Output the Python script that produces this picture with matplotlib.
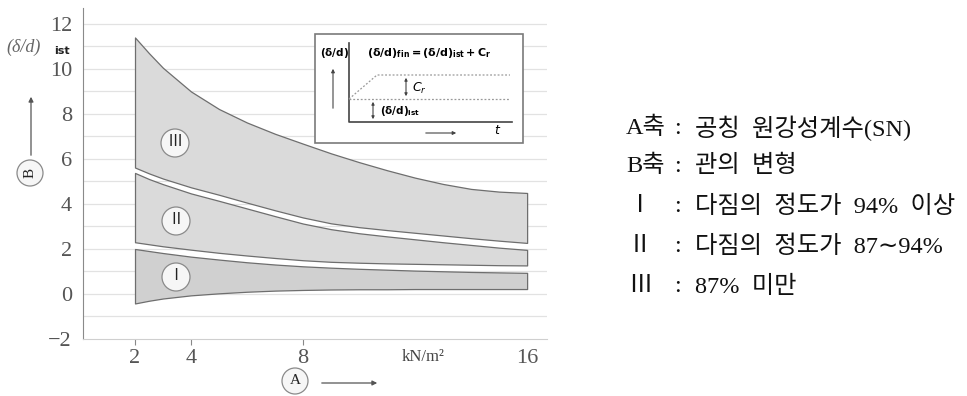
import matplotlib
matplotlib.use("Agg")
import matplotlib.pyplot as plt
from matplotlib.patches import Circle, Rectangle

# data (A: nominal ring stiffness SN, B: pipe deflection)
x_vals = [2, 2.5, 3, 4, 5, 6, 7, 8, 9, 10, 11, 12, 13, 14, 15, 16]
band3_top = [11.4, 10.7, 10.05, 9.0, 8.22, 7.62, 7.12, 6.68, 6.25, 5.86, 5.5, 5.17, 4.89, 4.67, 4.55, 4.49]
band3_bottom = [5.62, 5.36, 5.13, 4.74, 4.41, 4.06, 3.72, 3.4, 3.14, 2.97, 2.84, 2.72, 2.6, 2.48, 2.37, 2.27]
band2_top = [5.38, 5.11, 4.88, 4.47, 4.14, 3.8, 3.46, 3.13, 2.88, 2.7, 2.56, 2.43, 2.3, 2.18, 2.06, 1.96]
band2_bottom = [2.3, 2.21, 2.12, 1.97, 1.83, 1.71, 1.6, 1.5, 1.43, 1.39, 1.36, 1.34, 1.32, 1.3, 1.28, 1.27]
band1_top = [2.0, 1.91, 1.82, 1.66, 1.53, 1.41, 1.31, 1.23, 1.17, 1.12, 1.08, 1.04, 1.01, 0.98, 0.96, 0.94]
band1_bottom = [-0.42, -0.3, -0.2, -0.06, 0.03, 0.1, 0.15, 0.18, 0.2, 0.21, 0.21, 0.22, 0.22, 0.22, 0.22, 0.22]

x_ticks = [2, 4, 8, 16]
y_ticks = [-2, 0, 2, 4, 6, 8, 10, 12]
y_grid = list(range(-1, 13))

legend_rows = [
    ("A축", ":", "공칭  원강성계수(SN)"),
    ("B축", ":", "관의  변형"),
    ("Ⅰ", ":", "다짐의  정도가  94%  이상"),
    ("Ⅱ", ":", "다짐의  정도가  87∼94%"),
    ("Ⅲ", ":", "87%  미만"),
]

W, H = 967, 396
TICK_FONT = ["Liberation Serif", "DejaVu Serif"]
SERIF_KR = ["Liberation Serif", "Noto Sans CJK KR", "DejaVu Sans"]

fig = plt.figure(figsize=(W / 100, H / 100), dpi=100)

# main axes, placed in pixel terms of the reference
ax = fig.add_axes([83 / W, 1 - 339 / H, (547 - 83) / W, (339 - 8) / H])
ax.set_xlim(0.143, 16.71)
ax.set_ylim(-2, 12.71)

for yg in y_grid:
    ax.axhline(yg, color="#e2e2e2", lw=0.9, zorder=0)

fill_kw = dict(edgecolor="#6e6e6e", linewidth=0.9, zorder=2)
ax.fill_between(x_vals, band3_bottom, band3_top, facecolor="#dadada", **fill_kw)
ax.fill_between(x_vals, band2_bottom, band2_top, facecolor="#dadada", **fill_kw)
ax.fill_between(x_vals, band1_bottom, band1_top, facecolor="#d0d0d0", **fill_kw)

ax.set_yticks(y_ticks)
ax.set_yticklabels([str(v).replace("-", "\u2212") for v in y_ticks],
                   family=TICK_FONT, fontsize=16, color="#555555")
ax.tick_params(axis="y", length=0, pad=8)
ax.set_xticks(x_ticks)
ax.set_xticklabels([str(v) for v in x_ticks], family=TICK_FONT, fontsize=16, color="#555555")
ax.tick_params(axis="x", length=4, width=0.8, color="#888888", pad=3)
ax.xaxis.get_major_ticks()[-1].tick1line.set_visible(False)

for side in ("top", "right"):
    ax.spines[side].set_visible(False)
ax.spines["left"].set_color("#8a8a8a")
ax.spines["bottom"].set_color("#cfcfcf")
ax.set_facecolor("none")

# overlay in pixel coordinates for the annotations
ov = fig.add_axes([0, 0, 1, 1], zorder=5)
ov.set_xlim(0, W)
ov.set_ylim(H, 0)
ov.axis("off")
ov.patch.set_alpha(0)

def circ_label(x, y, r, txt, rot=0, size=11):
    ov.add_patch(Circle((x, y), r, facecolor="#f6f6f6", edgecolor="#8a8a8a", lw=0.9))
    ov.text(x, y, txt, ha="center", va="center", rotation=rot, fontsize=size,
            family=["Liberation Serif", "Noto Sans CJK KR"], color="#222222")

circ_label(175, 143, 14, "Ⅲ")
circ_label(176, 221, 14, "Ⅱ")
circ_label(176, 277, 14, "Ⅰ")

# y-axis caption
ov.text(6, 47, "(δ/d)", ha="left", va="center", fontsize=13, style="italic", color="#666666",
        family=TICK_FONT)
ov.text(54, 51, "ist", ha="left", va="center", fontsize=8, weight="bold", color="#222222")
arrow_kw = dict(arrowstyle="-|>", color="#555555", lw=0.9, mutation_scale=7)
ov.annotate("", xy=(31, 94), xytext=(31, 158), arrowprops=arrow_kw)
circ_label(30, 173, 13, "B", rot=90, size=11)

# x-axis caption
circ_label(295, 381, 13, "A", size=11)
ov.annotate("", xy=(380, 383), xytext=(319, 383), arrowprops=arrow_kw)
ov.text(423, 357, "kN/m²", ha="center", va="center", fontsize=12,
        family=["Liberation Serif"], color="#444444")

# inset schematic
ov.add_patch(Rectangle((315, 34), 208, 109, facecolor="white", edgecolor="#7a7a7a", lw=1.2))
ov.plot([349, 349, 512], [43, 122, 122], color="#444444", lw=1.2)
ov.plot([349, 377, 510], [99, 75, 75], color="#999999", lw=0.9, ls=(0, (1.5, 1.5)))
ov.plot([349, 510], [99, 99], color="#999999", lw=0.9, ls=(0, (1.5, 1.5)))
ov.annotate("", xy=(333, 66), xytext=(333, 111), arrowprops=dict(arrowstyle="-|>", color="#444", lw=0.8, mutation_scale=5))
ov.annotate("", xy=(459, 133), xytext=(423, 133), arrowprops=dict(arrowstyle="-|>", color="#444", lw=0.8, mutation_scale=5))
ov.annotate("", xy=(406, 75), xytext=(406, 99), arrowprops=dict(arrowstyle="<|-|>", color="#444", lw=0.8, mutation_scale=4))
ov.annotate("", xy=(373, 99), xytext=(373, 122), arrowprops=dict(arrowstyle="<|-|>", color="#444", lw=0.8, mutation_scale=4))
ov.text(320, 53, r"$\mathbf{(\delta/d)}$", ha="left", va="center", fontsize=7.5)
ov.text(367, 53, r"$\mathbf{(\delta/d)_{fin}=(\delta/d)_{ist}+C_r}$", ha="left", va="center", fontsize=8)
ov.text(412, 88, r"$C_r$", ha="left", va="center", fontsize=9)
ov.text(380, 111, r"$\mathbf{(\delta/d)_{ist}}$", ha="left", va="center", fontsize=7.5)
ov.text(494, 130, r"$t$", ha="left", va="center", fontsize=9)

# explanation text on the right
row_y = [128, 166, 207, 247, 287]
for (lab, colon, body), yy in zip(legend_rows, row_y):
    if lab.endswith("축"):
        ov.text(626, yy, lab, ha="left", va="center", fontsize=17.5, family=SERIF_KR, color="#111111")
    else:
        ov.text(640, yy, lab, ha="center", va="center", fontsize=17.5, family=SERIF_KR, color="#111111")
    ov.text(678, yy, colon, ha="center", va="center", fontsize=17.5, family=SERIF_KR, color="#111111")
    ov.text(695, yy, body, ha="left", va="center", fontsize=17.5, family=SERIF_KR, color="#111111")

fig.savefig("out.png", dpi=100, facecolor="white")
